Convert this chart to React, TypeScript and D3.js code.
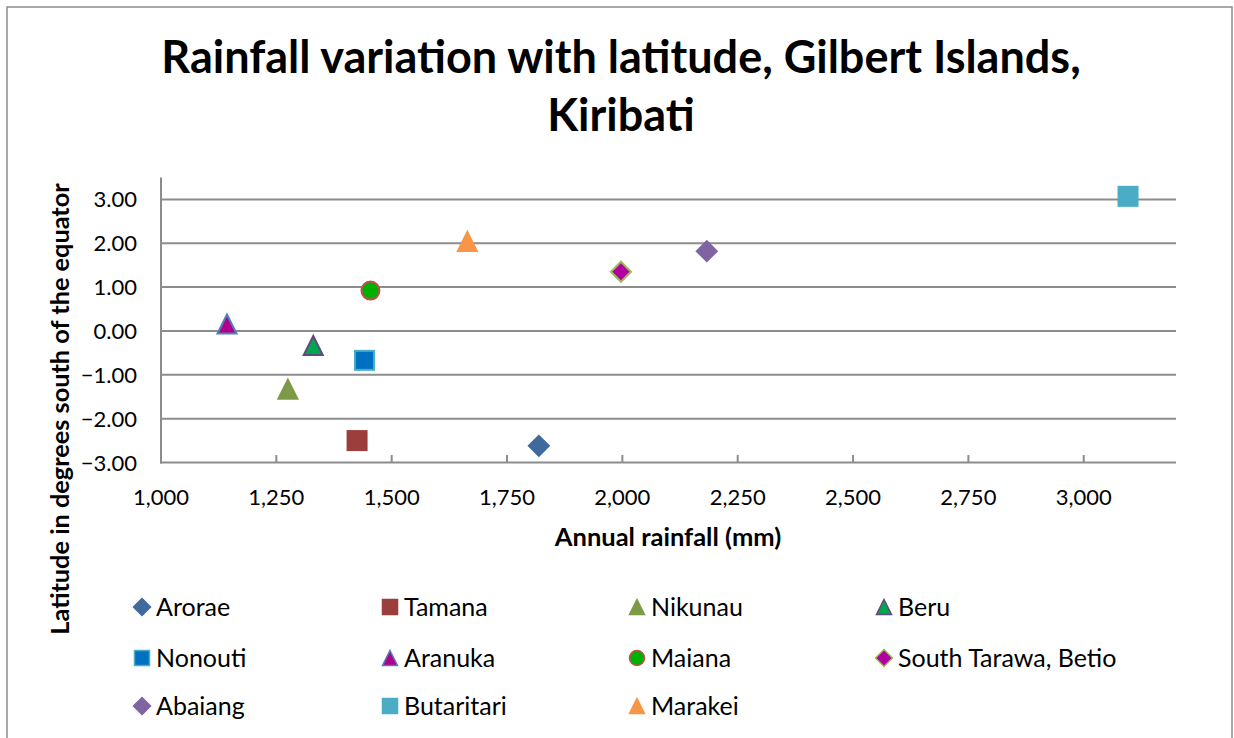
import React from "react";
import * as d3 from "d3";

const islands = ["Arorae", "Tamana", "Nikunau", "Beru", "Nonouti", "Aranuka", "Maiana", "South Tarawa, Betio", "Abaiang", "Butaritari", "Marakei"];
const rainfall = [1819, 1425, 1275, 1330, 1441, 1143, 1454, 1997, 2183, 3096, 1664];
const latitude = [-2.62, -2.50, -1.33, -0.33, -0.67, 0.16, 0.92, 1.35, 1.82, 3.07, 2.04];
const shapes = ["diamond", "square", "triangle", "triangle", "square", "triangle", "circle", "diamond", "diamond", "square", "triangle"];
const fills = ["#3F6A9E", "#9C3F3C", "#7D9A47", "#00A651", "#0070C0", "#B3008C", "#00B000", "#B300A0", "#8064A2", "#4BACC6", "#F79646"];
const strokes = ["#3F6A9E", "#9C3F3C", "#7D9A47", "#604A7B", "#4BACC6", "#4F81BD", "#C0504D", "#9BBB59", "#8064A2", "#4BACC6", "#F79646"];
const xTicks = [1000, 1250, 1500, 1750, 2000, 2250, 2500, 2750, 3000];
const yTicks = [-3, -2, -1, 0, 1, 2, 3];

const FONT = "Lato, 'Open Sans', sans-serif";

function Marker({ shape, cx, cy, size, fill, stroke, sw }: any) {
  const h = size / 2;
  if (shape === "square") {
    return <rect x={cx - h} y={cy - h} width={size} height={size} fill={fill} stroke={stroke} strokeWidth={sw} />;
  }
  if (shape === "circle") {
    return <circle cx={cx} cy={cy} r={h} fill={fill} stroke={stroke} strokeWidth={sw} />;
  }
  if (shape === "diamond") {
    const p = [[cx, cy - h], [cx + h, cy], [cx, cy + h], [cx - h, cy]];
    return <polygon points={p.map((q) => q.join(",")).join(" ")} fill={fill} stroke={stroke} strokeWidth={sw} />;
  }
  const p = [[cx, cy - h], [cx + h, cy + h], [cx - h, cy + h]];
  return <polygon points={p.map((q) => q.join(",")).join(" ")} fill={fill} stroke={stroke} strokeWidth={sw} />;
}

export default function App() {
  const W = 1234, H = 738;
  const x = d3.scaleLinear().domain([1000, 3200]).range([161, 1176]);
  const y = d3.scaleLinear().domain([-3, 3.5]).range([462.5, 177.5]);
  const grid = "#8C8C8C";
  const legendCols = [142, 390, 637, 884];
  const legendRows = [607, 658, 706];
  return (
    <svg width={W} height={H} style={{ position: "absolute", left: 0, top: 0 }}>
      <rect x={0} y={0} width={W} height={H} fill="#fff" />
      <rect x={7} y={7} width={1225} height={760} fill="#fff" stroke="#8C8C8C" strokeWidth={1.5} />
      <text x={621} y={73} textAnchor="middle" fontFamily={FONT} fontWeight="bold" fontSize={45} fill="#000">
        Rainfall variation with latitude, Gilbert Islands,
      </text>
      <text x={621} y={131} textAnchor="middle" fontFamily={FONT} fontWeight="bold" fontSize={45} fill="#000">
        Kiribati
      </text>
      {yTicks.map((t) => (
        <g key={"y" + t}>
          {t !== -3 && <line x1={161} x2={1176} y1={y(t)} y2={y(t)} stroke={grid} strokeWidth={2} />}
          <text x={137} y={y(t) + 8} textAnchor="end" fontFamily={FONT} fontSize={22} fill="#000">
            {d3.format(".2f")(t)}
          </text>
        </g>
      ))}
      <line x1={161} x2={161} y1={177.5} y2={463.5} stroke={grid} strokeWidth={2} />
      <line x1={160} x2={1176} y1={462.5} y2={462.5} stroke={grid} strokeWidth={2} />
      {xTicks.map((t) => (
        <g key={"x" + t}>
          {t !== 1000 && <line x1={x(t)} x2={x(t)} y1={455} y2={462} stroke={grid} strokeWidth={2} />}
          <text x={x(t)} y={505} textAnchor="middle" fontFamily={FONT} fontSize={22} fill="#000">
            {d3.format(",")(t)}
          </text>
        </g>
      ))}
      <text x={668} y={546} textAnchor="middle" fontFamily={FONT} fontWeight="bold" fontSize={25.5} fill="#000">
        Annual rainfall (mm)
      </text>
      <text transform="translate(69,409) rotate(-90)" textAnchor="middle" fontFamily={FONT} fontWeight="bold" fontSize={25.3} fill="#000">
        Latitude in degrees south of the equator
      </text>
      {islands.map((name, i) => (
        <Marker key={name} shape={shapes[i]} cx={x(rainfall[i])} cy={y(latitude[i])} size={shapes[i] === "diamond" ? 20 : shapes[i] === "circle" ? 18 : 19} fill={fills[i]} stroke={strokes[i]} sw={2} />
      ))}
      {islands.map((name, i) => {
        const cx = legendCols[i % 4];
        const cy = legendRows[Math.floor(i / 4)];
        return (
          <g key={"l" + name}>
            <Marker shape={shapes[i]} cx={cx} cy={cy} size={shapes[i] === "diamond" ? 17 : 15} fill={fills[i]} stroke={strokes[i]} sw={1.5} />
            <text x={cx + 14} y={cy + 9} fontFamily={FONT} fontSize={25} fill="#000">{name}</text>
          </g>
        );
      })}
    </svg>
  );
}
